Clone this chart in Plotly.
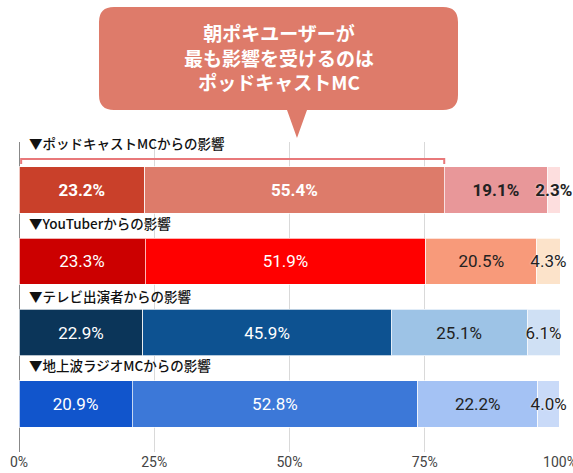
import plotly.graph_objects as go

categories = ["▼ポッドキャストMCからの影響", "▼YouTuberからの影響", "▼テレビ出演者からの影響", "▼地上波ラジオMCからの影響"]
level1 = [23.2, 23.3, 22.9, 20.9]
level2 = [55.4, 51.9, 45.9, 52.8]
level3 = [19.1, 20.5, 25.1, 22.2]
level4 = [2.3, 4.3, 6.1, 4.0]
tick_vals = [0, 25, 50, 75, 100]
tick_text = ["0%", "25%", "50%", "75%", "100%"]
callout_lines = ["朝ポキユーザーが", "最も影響を受けるのは", "ポッドキャストMC"]

colors = [
    ["#C9402A", "#CC0000", "#0B3559", "#1155CC"],
    ["#DD7B6A", "#FF0000", "#0D5291", "#3C78D8"],
    ["#E89799", "#F89A7A", "#9DC3E6", "#A4C2F4"],
    ["#FDDEDE", "#FCE3CA", "#CFE0F4", "#C9DAF8"],
]
text_colors = ["white", "white", "#222222", "#222222"]
header_shift = [47, 38, 37, 39]

W, H = 573, 473
L, R, T, B = 19, 13, 142, 21
PW, PH = W - L - R, H - T - B

fig = go.Figure()
for k, vals in enumerate([level1, level2, level3, level4]):
    texts = [(f"<b>{v:.1f}%</b>" if i == 0 else f"{v:.1f}%") for i, v in enumerate(vals)]
    fig.add_trace(go.Bar(
        y=categories, x=vals, orientation="h", width=0.65,
        marker=dict(color=colors[k], line=dict(color="rgba(255,255,255,0.7)", width=1)),
        text=texts, textposition="inside", insidetextanchor="middle", textangle=0,
        textfont=dict(family="Roboto", size=17, color=text_colors[k],
                      shadow=("0px 0px 2px white" if k == 3 else "none")),
        cliponaxis=False,
        hoverinfo="skip", showlegend=False,
    ))

# headers
for c, ys in zip(categories, header_shift):
    fig.add_annotation(x=0, y=c, xref="x", yref="y", text=c, showarrow=False,
                       xanchor="left", yanchor="middle", xshift=8, yshift=ys,
                       font=dict(family="Noto Sans CJK JP", size=13.5, color="#111111", weight=500))

def px2paper(px, py):
    return (px - L) / PW, (H - B - py) / PH

# bracket over first two podcast segments
bx = level1[0] + level2[0]
fig.add_shape(type="path", xref="x", yref="y",
              path=f"M 0.4,-0.365 L 0.4,-0.435 L {bx},-0.435 L {bx},-0.365",
              line=dict(color="#E8787A", width=2))

# callout bubble
x0, y0, x1, y1, r = 99, 7, 458, 110, 15
tipx, tipy, bl, br = 297, 138, 287, 307
def P(px, py):
    a, b = px2paper(px, py)
    return f"{a:.5f},{b:.5f}"
path = (f"M {P(x0 + r, y0)} L {P(x1 - r, y0)} Q {P(x1, y0)} {P(x1, y0 + r)} "
        f"L {P(x1, y1 - r)} Q {P(x1, y1)} {P(x1 - r, y1)} "
        f"L {P(br, y1)} L {P(tipx, tipy)} L {P(bl, y1)} "
        f"L {P(x0 + r, y1)} Q {P(x0, y1)} {P(x0, y1 - r)} "
        f"L {P(x0, y0 + r)} Q {P(x0, y0)} {P(x0 + r, y0)} Z")
fig.add_shape(type="path", xref="paper", yref="paper", path=path,
              fillcolor="#DE7B6A", line=dict(width=0), layer="above")
cx, cy = px2paper(279, 57)
fig.add_annotation(x=cx, y=cy, xref="paper", yref="paper", showarrow=False,
                   text="<br>".join(callout_lines), align="center",
                   xanchor="center", yanchor="middle",
                   font=dict(family="Noto Sans CJK JP", size=19, color="white", weight="bold"))

fig.update_layout(
    barmode="stack", width=W, height=H,
    margin=dict(l=L, r=R, t=T, b=B, autoexpand=False),
    paper_bgcolor="white", plot_bgcolor="white",
    uniformtext=dict(mode="show", minsize=17),
    font=dict(family="Roboto"),
)
fig.update_xaxes(range=[0, 100], tickvals=tick_vals, ticktext=tick_text,
                 showgrid=True, gridcolor="#D9D9D9", gridwidth=1,
                 zeroline=True, zerolinecolor="#888888", zerolinewidth=1,
                 tickfont=dict(family="Roboto", size=14, color="#444444"),
                 ticklabeloverflow="allow",
                 ticks="", showline=False)
fig.update_yaxes(categoryorder="array", categoryarray=categories,
                 range=[3.675, -0.673], showticklabels=False, showgrid=False,
                 zeroline=False, showline=False)

fig.write_html("out.html", config={"displayModeBar": False},
               post_script="document.body.style.margin='0';")
